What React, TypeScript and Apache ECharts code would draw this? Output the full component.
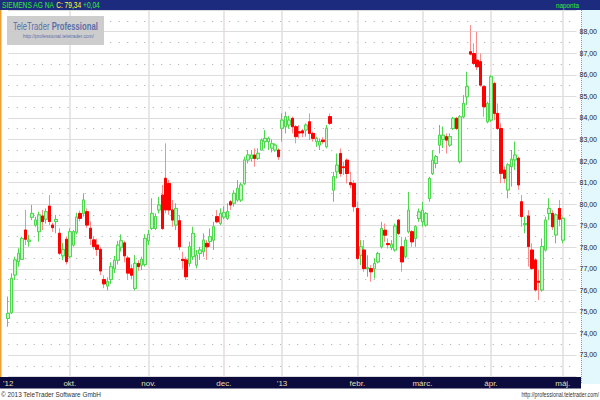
import React, { useEffect, useRef } from "react";
import * as echarts from "echarts";

const instrument = "SIEMENS AG NA";
const lastCloseLabel = "79,34";
const lastClose = 79.34;
const changeLabel = "+0,04";
const periodLabel = "naponta";

const monthStartIdx = [0, 18, 41, 63, 80, 102, 121, 141, 162];
const monthLabels = ["'12", "okt.", "nov.", "dec.", "'13", "febr.", "márc.", "ápr.", "máj."];

const openVals = [
  74.70, 74.96, 76.71, 77.33, 77.44, 78.80, 78.27, 79.39, 79.03, 78.72,
  79.45, 79.30, 79.91, 79.03, 79.19, 78.65, 77.60, 78.37, 77.56, 78.10,
  78.70, 79.57, 79.57, 79.65, 78.88, 78.34, 78.10, 77.90, 76.50, 76.20,
  76.50, 77.00, 77.40, 78.00, 78.20, 77.50, 77.00, 76.09, 77.25, 77.17,
  77.20, 78.30, 78.87, 78.87, 79.73, 80.42, 81.20, 80.96, 79.73, 79.03,
  79.23, 77.44, 77.41, 77.25, 77.56, 77.17, 77.71, 77.79, 78.18, 78.26,
  78.33, 79.42, 79.11, 79.40, 79.34, 80.11, 80.04, 80.19, 80.19, 80.96,
  82.05, 82.12, 82.28, 82.12, 82.51, 82.90, 82.90, 82.60, 82.51, 82.51,
  83.52, 83.59, 83.67, 83.98, 83.59, 83.36, 83.40, 83.44, 83.82, 83.28,
  82.90, 82.74, 82.97, 82.66, 84.06, 80.65, 81.50, 82.35, 81.73, 82.04,
  81.00, 80.96, 79.80, 77.63, 77.87, 77.01, 77.01, 77.01, 77.32, 78.02,
  78.79, 78.17, 77.98, 77.87, 79.26, 78.02, 77.56, 78.72, 78.72, 78.41,
  79.33, 79.18, 79.03, 80.26, 81.42, 81.89, 82.74, 83.00, 83.13, 82.74,
  83.51, 83.98, 81.97, 84.05, 84.98, 87.07, 86.99, 86.68, 86.61, 85.45,
  83.82, 83.90, 85.60, 84.21, 83.51, 81.58, 80.66, 81.74, 82.05, 82.13,
  80.11, 79.05, 79.45, 77.87, 77.41, 76.42, 76.02, 77.87, 79.57, 79.57,
  78.57, 79.80, 78.33,
];
const highVals = [
  75.71, 76.79, 77.56, 77.95, 78.49, 79.73, 78.57, 79.96, 79.42, 79.65,
  79.73, 79.80, 80.42, 79.14, 79.50, 78.88, 78.20, 78.50, 78.88, 78.80,
  79.60, 79.70, 80.50, 79.80, 79.19, 78.50, 78.40, 78.00, 76.70, 76.60,
  77.30, 77.60, 78.30, 78.60, 78.30, 77.60, 77.20, 77.64, 77.40, 77.56,
  78.60, 78.80, 80.27, 79.57, 80.34, 80.89, 82.82, 81.12, 80.19, 80.04,
  79.49, 77.79, 77.56, 78.26, 78.95, 77.87, 78.02, 78.64, 78.33, 78.87,
  79.18, 79.73, 79.80, 79.90, 80.04, 80.19, 80.65, 81.12, 81.00, 82.20,
  82.51, 82.51, 82.59, 82.59, 83.05, 83.44, 83.13, 83.00, 82.82, 82.59,
  84.21, 84.29, 84.10, 84.06, 83.67, 83.67, 83.50, 83.75, 84.21, 83.36,
  83.13, 83.05, 83.10, 83.67, 84.21, 81.50, 82.35, 82.58, 81.96, 82.12,
  81.50, 81.11, 80.11, 78.33, 78.33, 77.63, 77.17, 77.48, 77.79, 79.18,
  79.10, 78.41, 78.33, 79.10, 79.30, 78.48, 78.48, 80.57, 78.79, 79.03,
  79.80, 80.11, 79.64, 81.27, 82.50, 82.28, 83.67, 83.60, 83.28, 83.28,
  84.05, 84.05, 84.13, 85.06, 86.14, 88.31, 87.46, 88.00, 86.99, 85.52,
  84.75, 85.99, 85.68, 84.67, 83.75, 81.74, 81.90, 82.51, 82.90, 82.20,
  80.42, 79.42, 79.72, 78.18, 77.49, 76.94, 78.41, 79.42, 80.27, 79.72,
  79.57, 80.19, 79.42,
];
const lowVals = [
  74.31, 74.90, 76.48, 77.10, 77.41, 78.10, 78.03, 79.26, 78.95, 78.26,
  78.80, 79.10, 79.03, 78.72, 78.65, 77.64, 77.40, 77.20, 77.49, 78.03,
  78.60, 79.20, 79.42, 78.90, 78.10, 77.90, 77.60, 76.70, 76.10, 76.00,
  76.30, 76.80, 77.20, 77.80, 77.30, 76.50, 76.50, 76.00, 76.90, 76.94,
  77.10, 78.10, 78.80, 78.80, 79.57, 78.80, 79.57, 79.50, 78.95, 78.80,
  77.87, 77.00, 76.48, 77.10, 77.41, 77.02, 77.41, 77.56, 77.41, 78.02,
  77.87, 79.11, 79.03, 79.30, 79.26, 79.73, 79.88, 80.11, 80.10, 80.89,
  81.89, 81.97, 81.74, 82.05, 82.51, 82.59, 82.51, 82.40, 82.43, 82.05,
  82.90, 83.28, 83.50, 83.28, 82.82, 83.05, 83.10, 83.13, 82.97, 82.90,
  82.66, 82.51, 82.80, 82.59, 83.67, 80.11, 81.19, 81.27, 81.35, 80.96,
  80.73, 79.64, 77.40, 77.17, 76.86, 76.63, 76.40, 76.55, 77.25, 77.94,
  78.25, 77.94, 77.87, 77.79, 78.56, 76.86, 77.48, 78.64, 78.02, 78.02,
  79.18, 78.95, 78.95, 80.11, 81.35, 81.66, 82.35, 82.60, 82.35, 82.66,
  83.44, 83.44, 81.89, 83.98, 84.60, 86.90, 86.45, 86.22, 85.45, 84.05,
  83.75, 83.82, 83.90, 83.44, 80.97, 80.97, 80.27, 80.81, 81.58, 80.66,
  78.95, 78.65, 77.10, 76.94, 75.94, 75.55, 75.94, 77.80, 79.26, 78.80,
  78.18, 78.97, 78.18,
];
const closeVals = [
  74.93, 76.56, 77.41, 77.72, 78.41, 78.37, 78.33, 79.57, 79.26, 79.50,
  79.19, 79.65, 79.19, 78.91, 79.29, 77.72, 77.90, 77.33, 78.72, 78.72,
  79.40, 79.34, 80.19, 79.03, 78.41, 78.03, 77.90, 76.90, 76.30, 76.40,
  77.10, 77.40, 78.10, 78.30, 77.60, 76.80, 76.70, 77.25, 77.10, 77.44,
  78.41, 78.60, 79.57, 79.42, 79.96, 78.87, 79.73, 79.73, 79.26, 79.80,
  78.02, 77.38, 76.63, 78.02, 78.64, 77.64, 77.87, 78.33, 78.02, 78.49,
  78.95, 79.18, 79.57, 79.60, 79.65, 79.96, 80.50, 80.73, 80.89, 82.05,
  82.28, 82.28, 82.12, 82.36, 82.97, 83.05, 83.05, 82.80, 82.74, 82.20,
  83.90, 84.06, 83.90, 83.59, 83.13, 83.30, 83.30, 83.67, 83.28, 83.05,
  83.05, 82.90, 82.90, 83.52, 83.75, 81.27, 81.81, 81.42, 81.69, 81.42,
  80.90, 79.88, 77.48, 78.02, 77.01, 77.06, 76.86, 77.25, 77.71, 78.87,
  78.56, 78.12, 78.14, 78.98, 78.64, 77.32, 78.33, 79.72, 78.25, 78.95,
  79.64, 79.72, 79.57, 81.19, 82.04, 82.20, 83.20, 83.20, 82.97, 83.13,
  83.98, 83.51, 84.05, 84.67, 85.45, 86.96, 86.53, 86.37, 85.52, 84.52,
  84.67, 85.91, 84.21, 83.51, 81.43, 81.20, 81.82, 82.08, 82.28, 80.89,
  79.42, 79.10, 78.03, 77.02, 76.02, 76.38, 78.03, 79.26, 79.80, 78.95,
  79.50, 79.30, 79.34,
];

const EMPTY_SLOTS = 4;
const FONT = "Liberation Sans, Arial, sans-serif";

export default function App() {
  const ref = useRef<HTMLDivElement>(null);

  useEffect(() => {
    if (!ref.current) return;
    const chart = echarts.init(ref.current, null, { renderer: "svg" });

    const n = closeVals.length;
    const categories = Array.from({ length: n + EMPTY_SLOTS }, (_, i) => String(i));
    const full = closeVals.map((c, i) => [openVals[i], c, lowVals[i], highVals[i]]);
    const bodies = closeVals.map((c, i) => [
      openVals[i],
      c,
      Math.min(openVals[i], c),
      Math.max(openVals[i], c),
    ]);
    const isMonth = (idx: number) => monthStartIdx.indexOf(idx) >= 0;

    chart.setOption({
      animation: false,
      grid: { left: 5, right: 21.1, top: 10.15, bottom: 23.45, containLabel: false },
      xAxis: {
        type: "category",
        data: categories,
        boundaryGap: false,
        axisLine: { show: false },
        axisTick: { show: false },
        axisLabel: {
          interval: (idx: number) => isMonth(idx),
          formatter: (_v: string, idx: number) => monthLabels[monthStartIdx.indexOf(idx)] ?? "",
          color: "#e6ddb0",
          fontSize: 8,
          fontFamily: FONT,
          margin: 3,
        },
        splitLine: {
          show: true,
          interval: (idx: number) => isMonth(idx) && idx > 0,
          lineStyle: { color: "#e4dede", width: 1.5 },
        },
      },
      yAxis: {
        type: "value",
        position: "right",
        min: 72,
        max: 89,
        interval: 1,
        scale: true,
        axisLine: { show: false },
        axisTick: { show: false },
        axisLabel: {
          formatter: (v: number) => (v <= 72 || v >= 89 ? "" : v.toFixed(2).replace(".", ",")),
          color: "#222",
          fontSize: 7,
          fontFamily: FONT,
          margin: 3,
        },
        splitLine: { show: true, lineStyle: { color: "#dcdcdc", width: 1 } },
        minorTick: { show: false, splitNumber: 2 },
        minorSplitLine: { show: true, lineStyle: { color: "#a8a8a8", width: 1, type: [1, 7.5] } },
      },
      series: [
        {
          type: "candlestick",
          name: "wicks",
          data: full,
          barWidth: 3,
          clip: false,
          silent: true,
          itemStyle: {
            color: "#c8f5c8",
            color0: "#ff8c8c",
            borderColor: "#4fd84f",
            borderColor0: "#ff8c8c",
            borderWidth: 1,
          },
        },
        {
          type: "candlestick",
          name: instrument,
          data: bodies,
          barWidth: 3,
          clip: false,
          silent: true,
          itemStyle: {
            color: "#c8f5c8",
            color0: "#ff0000",
            borderColor: "#4fd84f",
            borderColor0: "#ff0000",
            borderWidth: 1,
          },
          markLine: {
            silent: true,
            symbol: "none",
            data: [{ yAxis: lastClose }],
            lineStyle: { opacity: 0 },
            label: {
              show: true,
              position: "end",
              formatter: lastCloseLabel,
              backgroundColor: "#ffff00",
              color: "#000",
              fontSize: 7,
              fontFamily: FONT,
              padding: [1, 1, 0, 1],
              distance: 3,
            },
          },
        },
      ],
      graphic: [
        { type: "rect", z: -1, shape: { x: 0, y: 0, width: 600, height: 10 }, style: { fill: "#1d2b7f" } },
        { type: "rect", z: -1, shape: { x: 581, y: 10, width: 19, height: 374 }, style: { fill: "#e3f8fd" } },
        {
          type: "line",
          z: -1,
          shape: { x1: 581.5, y1: 10, x2: 581.5, y2: 384 },
          style: { stroke: "#a0a060", lineWidth: 1, lineDash: [1, 1] },
        },
        { type: "rect", z: -1, shape: { x: 0, y: 377, width: 581, height: 11.5 }, style: { fill: "#0b0b3d" } },
        { type: "rect", z: -1, shape: { x: 0, y: 10, width: 1.5, height: 367 }, style: { fill: "#f0a030" } },
        {
          type: "text",
          z: 10,
          x: 2,
          y: 5.5,
          scaleX: 0.78,
          style: {
            text: `{g|${instrument}} {y|C: ${lastCloseLabel}} {g|${changeLabel}}`,
            fontSize: 8.5,
            fontFamily: FONT,
            verticalAlign: "middle",
            textVerticalAlign: "middle",
            rich: {
              g: { fill: "#33ee33", fontSize: 8.5, fontFamily: FONT },
              y: { fill: "#ffff33", fontSize: 8.5, fontFamily: FONT },
            },
          },
        },
        {
          type: "text",
          z: 10,
          x: 579,
          y: 5.5,
          scaleX: 0.8,
          style: {
            text: periodLabel,
            fill: "#33ee33",
            fontSize: 8,
            fontFamily: FONT,
            align: "right",
            textAlign: "right",
            verticalAlign: "middle",
            textVerticalAlign: "middle",
          },
        },
        {
          type: "rect",
          z: 50,
          shape: { x: 7, y: 16, width: 97, height: 29 },
          style: { fill: "#c9c9c9", opacity: 0.92 },
        },
        {
          type: "text",
          z: 51,
          x: 13,
          y: 25.5,
          scaleX: 0.7,
          style: {
            text: "{a|TeleTrader }{b|Professional}",
            fontSize: 11,
            fontFamily: FONT,
            verticalAlign: "middle",
            textVerticalAlign: "middle",
            rich: {
              a: { fill: "#5b6fa8", fontSize: 11, fontFamily: FONT },
              b: { fill: "#5b6fa8", fontSize: 11, fontFamily: FONT, fontWeight: "bold" },
            },
          },
        },
        {
          type: "text",
          z: 51,
          x: 23,
          y: 35.5,
          scaleX: 0.8,
          style: {
            text: "http://professional.teletrader.com/",
            fill: "#5b6fa8",
            fontSize: 6,
            fontFamily: FONT,
            verticalAlign: "middle",
            textVerticalAlign: "middle",
          },
        },
        {
          type: "text",
          z: 10,
          x: 1,
          y: 394,
          scaleX: 0.8,
          style: {
            text: "© 2013 TeleTrader Software GmbH",
            fill: "#333",
            fontSize: 8,
            fontFamily: FONT,
            verticalAlign: "middle",
            textVerticalAlign: "middle",
          },
        },
        {
          type: "text",
          z: 10,
          x: 599,
          y: 394.5,
          scaleX: 0.7,
          style: {
            text: "http://professional.teletrader.com/",
            fill: "#333",
            fontSize: 7.5,
            fontFamily: FONT,
            align: "right",
            textAlign: "right",
            verticalAlign: "middle",
            textVerticalAlign: "middle",
          },
        },
      ],
    });

    return () => chart.dispose();
  }, []);

  return (
    <div
      ref={ref}
      style={{ position: "absolute", left: 0, top: 0, width: 600, height: 400, background: "#fff" }}
    />
  );
}
